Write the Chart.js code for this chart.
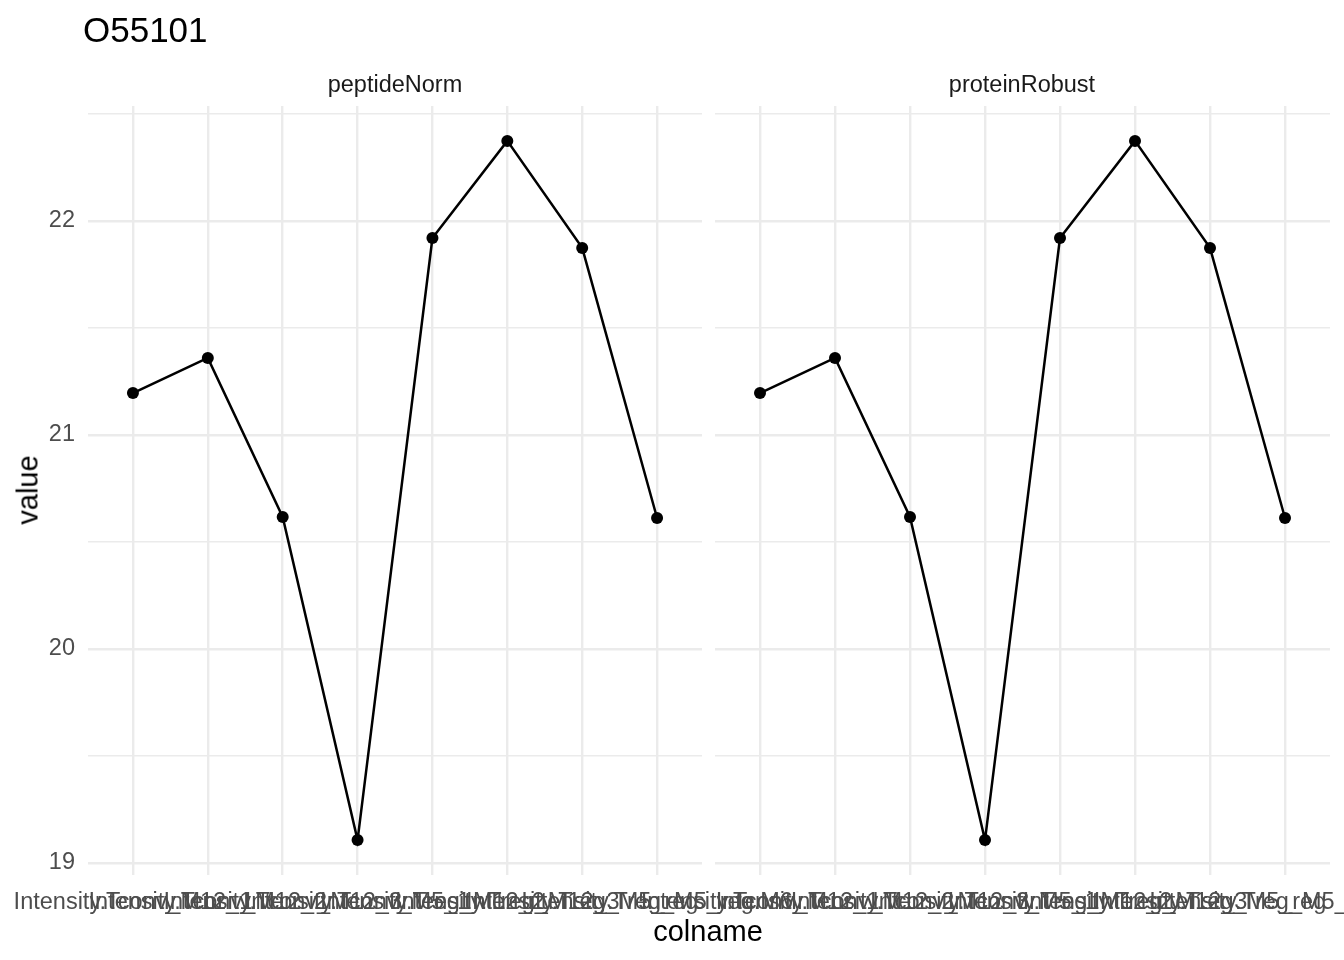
<!DOCTYPE html>
<html>
<head>
<meta charset="utf-8">
<script src="https://cdn.jsdelivr.net/npm/chart.js@4/dist/chart.umd.min.js"></script>
<style>
  html, body { margin:0; padding:0; background:#ffffff; }
  #wrap { position:relative; width:1344px; height:960px; overflow:hidden; font-family:"Liberation Sans", Arial, sans-serif; }
  canvas { position:absolute; left:0; top:0; }
  .txt { position:absolute; white-space:nowrap; line-height:1; }
</style>
</head>
<body>
<div id="wrap">
  <canvas id="c1" width="1344" height="960"></canvas>
  <canvas id="c2" width="1344" height="960"></canvas>
  <div class="txt" id="title" style="font-size:35px;color:#000;left:83px;top:12px;">O55101</div>
  <div class="txt" id="strip1" style="font-size:23.5px;color:#1a1a1a;left:395px;top:73px;transform:translateX(-50%);">peptideNorm</div>
  <div class="txt" id="strip2" style="font-size:23.5px;color:#1a1a1a;left:1022px;top:73px;transform:translateX(-50%);">proteinRobust</div>
  <div class="txt" id="ytitle" style="font-size:29px;color:#000;left:28px;top:490px;transform:translate(-50%,-50%) rotate(-90deg);">value</div>
  <div class="txt" id="xtitle" style="font-size:29px;color:#000;left:708px;top:917px;transform:translateX(-50%);">colname</div>
</div>
<script>
// ---- data ----
const categories = [
  "Intensity.Tconv_M12_1",
  "Intensity.Tconv_M12_2",
  "Intensity.Tconv_M12_3",
  "Intensity.Tconv_M5_1",
  "Intensity.Treg_M12_2",
  "Intensity.Treg_M12_3",
  "Intensity.Treg_M5_reg",
  "Intensity.Treg_M5_reg.M6"
];
const peptideNorm   = [21.196, 21.360, 20.617, 19.107, 21.920, 22.374, 21.874, 20.612];
const proteinRobust = [21.196, 21.360, 20.617, 19.107, 21.920, 22.374, 21.874, 20.612];
const panelNames = ["peptideNorm", "proteinRobust"];
const yTickValues = [19, 19.5, 20, 20.5, 21, 21.5, 22, 22.5];
const yTickLabels = ["19", "", "20", "", "21", "", "22", ""];
const yRange = [18.944, 22.537];
const xRange = [0.4, 8.6];

const GRID = "#ebebeb";
const FONT = "Liberation Sans, Arial, sans-serif";

function makePanel(canvasId, values, padLeft, padRight, showY) {
  const pts = values.map((v, i) => ({ x: i + 1, y: v }));
  return new Chart(document.getElementById(canvasId), {
    type: "line",
    data: {
      datasets: [{
        data: pts,
        borderColor: "#000000",
        backgroundColor: "#000000",
        borderWidth: 2.5,
        pointRadius: 6,
        pointHoverRadius: 6,
        pointBorderWidth: 0,
        tension: 0,
        fill: false
      }]
    },
    options: {
      responsive: false,
      animation: false,
      devicePixelRatio: 1,
      events: [],
      layout: { padding: { left: padLeft, right: padRight, top: 106, bottom: 0 } },
      plugins: { legend: { display: false }, title: { display: false }, tooltip: { enabled: false } },
      scales: {
        x: {
          type: "linear",
          min: xRange[0], max: xRange[1],
          border: { display: false },
          grid: { color: GRID, lineWidth: 2.4, drawTicks: false },
          afterBuildTicks: s => { s.ticks = categories.map((c, i) => ({ value: i + 1 })); },
          ticks: {
            autoSkip: false, maxRotation: 0, minRotation: 0,
            padding: 13,
            color: "#4d4d4d",
            font: { family: FONT, size: 23.5 },
            callback: (v) => categories[Math.round(v) - 1]
          },
          afterFit: s => { s.height = 85; s.paddingLeft = 0; s.paddingRight = 0; }
        },
        y: {
          type: "linear",
          min: yRange[0], max: yRange[1],
          border: { display: false },
          grid: {
            color: GRID, drawTicks: false,
            lineWidth: ctx => (ctx.tick && Number.isInteger(ctx.tick.value)) ? 2.4 : 1.6
          },
          afterBuildTicks: s => { s.ticks = yTickValues.map(v => ({ value: v })); },
          ticks: {
            display: showY,
            padding: 13,
            color: "#4d4d4d",
            font: { family: FONT, size: 23.5 },
            callback: (v) => { const k = yTickValues.indexOf(v); return k >= 0 ? yTickLabels[k] : ""; }
          },
          afterFit: s => { s.width = showY ? 88 : 0; s.paddingTop = 0; s.paddingBottom = 0; }
        }
      }
    }
  });
}

makePanel("c1", peptideNorm, 0, 1344 - 702, true);
makePanel("c2", proteinRobust, 715, 1344 - 1330, false);
</script>
</body>
</html>
